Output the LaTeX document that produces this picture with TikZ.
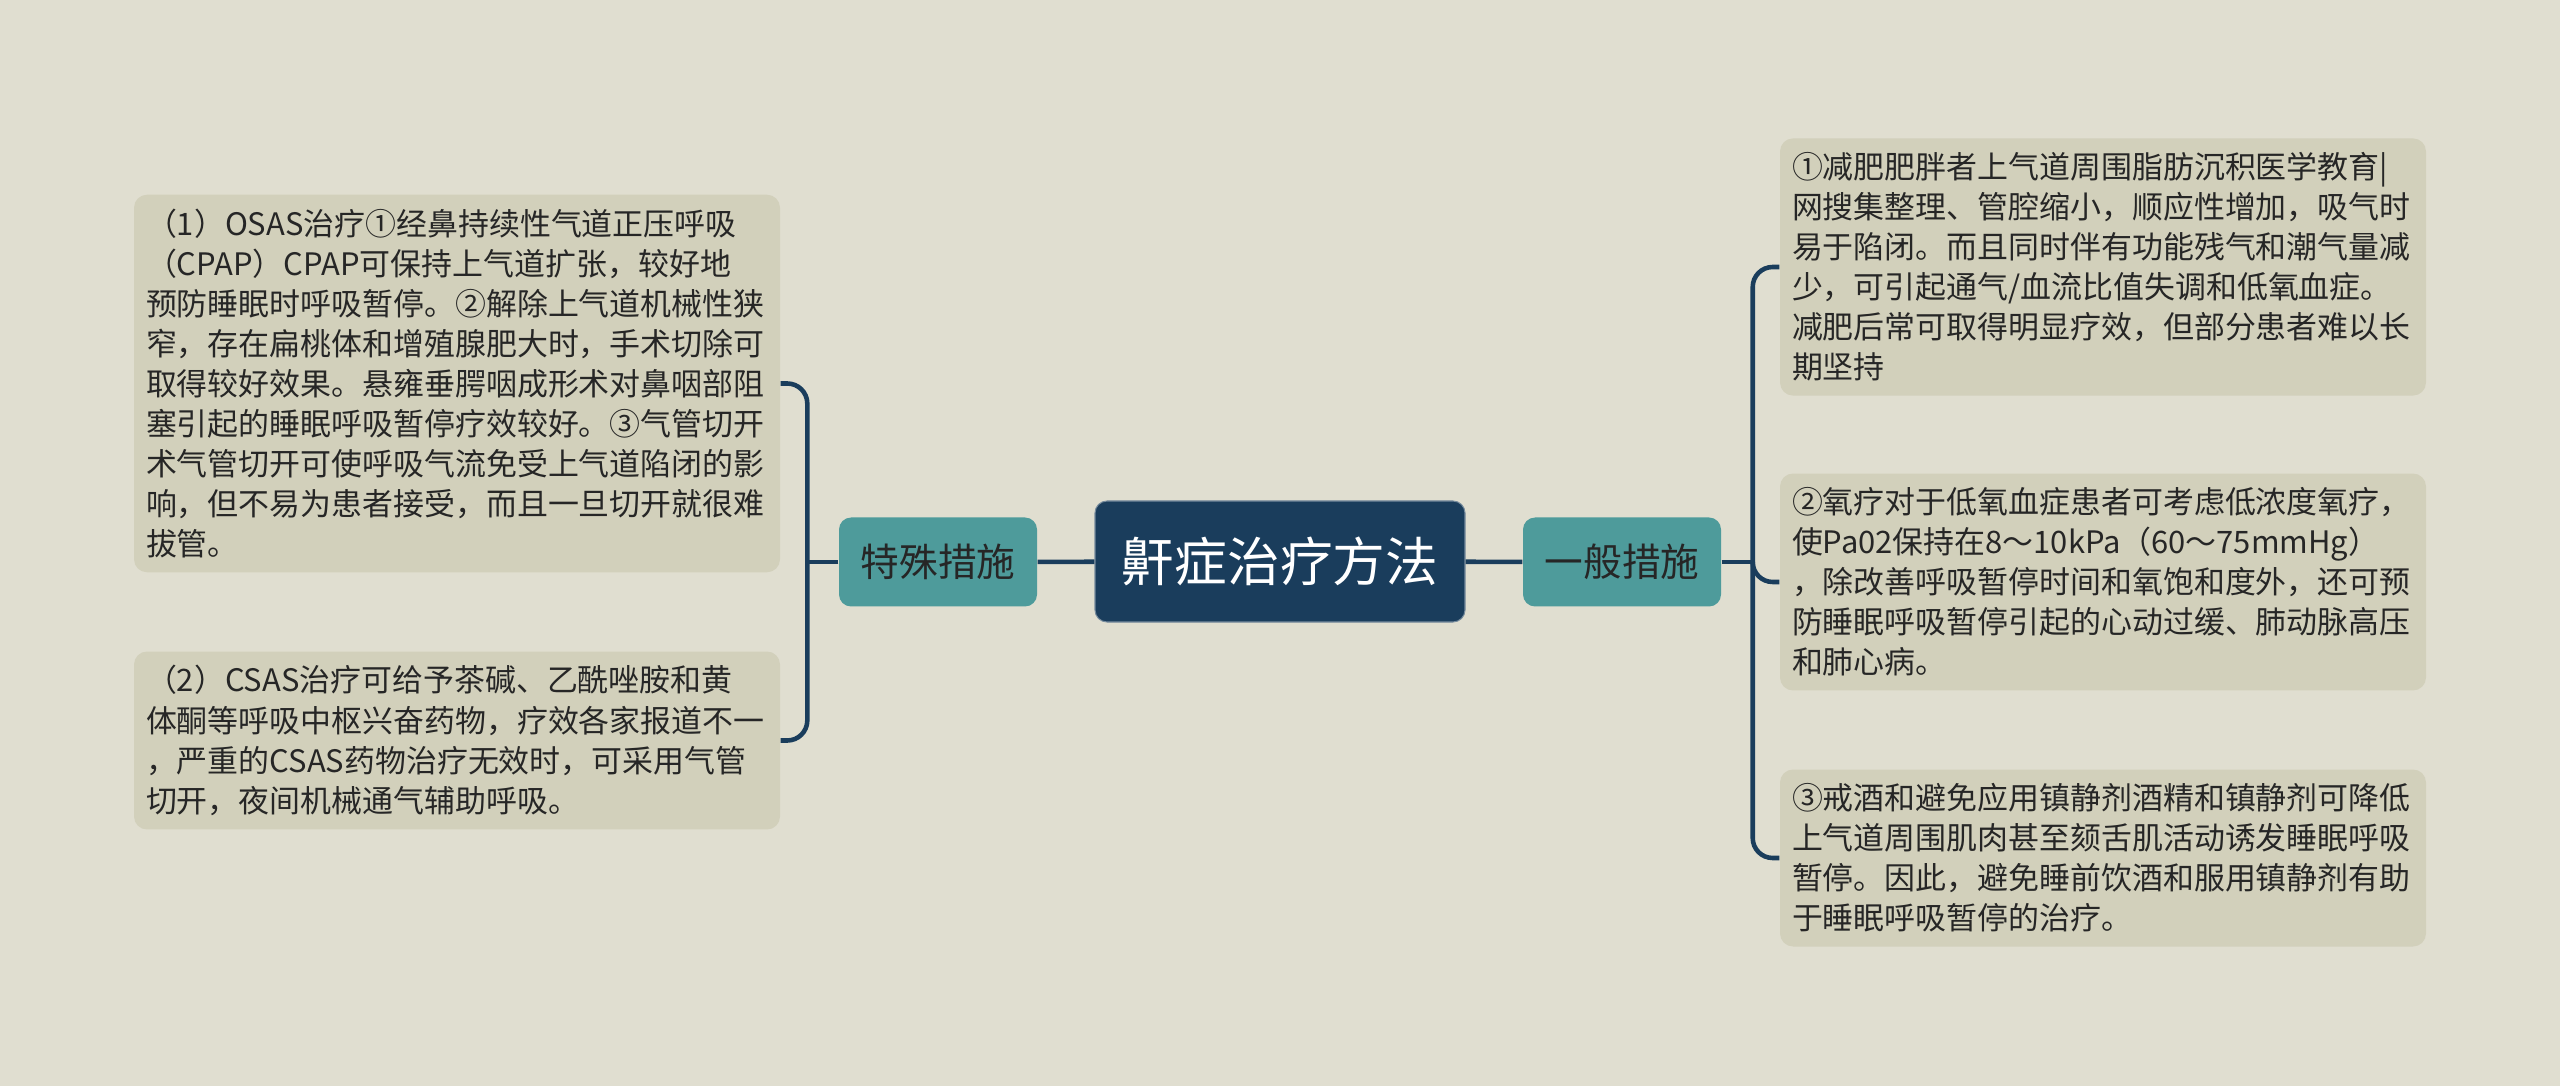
\documentclass[tikz,border=0pt]{standalone}
\usepackage{fontspec}
\setmainfont{Noto Sans CJK SC}
\usetikzlibrary{positioning}
\definecolor{bgc}{RGB}{224,222,208}
\definecolor{leafc}{RGB}{210,208,187}
\definecolor{navy}{RGB}{26,61,92}
\definecolor{teal}{RGB}{78,155,155}
\definecolor{txt}{RGB}{38,38,38}
\begin{document}
\begin{tikzpicture}[
  root/.style={rectangle, rounded corners=0.12cm, fill=navy, draw=white!40!navy,
               line width=0.3pt, minimum width=3.7cm, minimum height=1.21cm,
               text=white, font=\fontsize{15pt}{18pt}\selectfont},
  mid/.style={rectangle, rounded corners=0.12cm, fill=teal, minimum width=1.98cm,
              minimum height=0.89cm, text=txt, font=\fontsize{11pt}{13pt}\selectfont},
  leaf/.style={rectangle, rounded corners=0.13cm, fill=leafc, text width=6.22cm,
               align=left, inner xsep=0.12cm, inner ysep=0.14cm, text=txt,
               font=\fontsize{8.8pt}{11.4pt}\selectfont},
  link/.style={navy, line width=1.3pt, rounded corners=0.2cm}
]
  \fill[bgc] (0,0) rectangle (25.6,-10.86);
  \useasboundingbox (0,0) rectangle (25.6,-10.86);

  \node[root] (rt) at (12.80,-5.615) {鼾症治疗方法};
  \node[mid] (sp) at (9.38,-5.62) {特殊措施};
  \node[mid] (gen) at (16.22,-5.62) {一般措施};

  \node[leaf] (l1) at (4.57,-3.835) {（1）OSAS治疗①经鼻持续性气道正压呼吸\\
    （CPAP）CPAP可保持上气道扩张，较好地\\
    预防睡眠时呼吸暂停。②解除上气道机械性狭\\
    窄，存在扁桃体和增殖腺肥大时，手术切除可\\
    取得较好效果。悬雍垂腭咽成形术对鼻咽部阻\\
    塞引起的睡眠呼吸暂停疗效较好。③气管切开\\
    术气管切开可使呼吸气流免受上气道陷闭的影\\
    响，但不易为患者接受，而且一旦切开就很难\\
    拔管。};
  \node[leaf] (l2) at (4.57,-7.405) {（2）CSAS治疗可给予茶碱、乙酰唑胺和黄\\
    体酮等呼吸中枢兴奋药物，疗效各家报道不一\\
    ，严重的CSAS药物治疗无效时，可采用气管\\
    切开，夜间机械通气辅助呼吸。};

  \node[leaf] (r1) at (21.03,-2.67) {①减肥肥胖者上气道周围脂肪沉积医学教育|\\
    网搜集整理、管腔缩小，顺应性增加，吸气时\\
    易于陷闭。而且同时伴有功能残气和潮气量减\\
    少，可引起通气/血流比值失调和低氧血症。\\
    减肥后常可取得明显疗效，但部分患者难以长\\
    期坚持};
  \node[leaf] (r2) at (21.03,-5.82) {②氧疗对于低氧血症患者可考虑低浓度氧疗，\\
    使Pa02保持在8～10kPa（60～75mmHg）\\
    ，除改善呼吸暂停时间和氧饱和度外，还可预\\
    防睡眠呼吸暂停引起的心动过缓、肺动脉高压\\
    和肺心病。};
  \node[leaf] (r3) at (21.03,-8.58) {③戒酒和避免应用镇静剂酒精和镇静剂可降低\\
    上气道周围肌肉甚至颏舌肌活动诱发睡眠呼吸\\
    暂停。因此，避免睡前饮酒和服用镇静剂有助\\
    于睡眠呼吸暂停的治疗。};

  \coordinate[left=0.31cm of sp.west] (lj);
  \coordinate[right=0.31cm of gen.east] (rj);

  \draw[link] (rt) -- (sp);
  \draw[link] (rt) -- (gen);
  \draw[link] (sp.west) -- (lj);
  \draw[link] (l1.east) -| (lj) |- (l2.east);
  \draw[link] (gen.east) -- (rj);
  \draw[link] (r1.west) -| (rj) |- (r3.west);
  \draw[link] (rj) |- (r2.west);
\end{tikzpicture}
\end{document}
